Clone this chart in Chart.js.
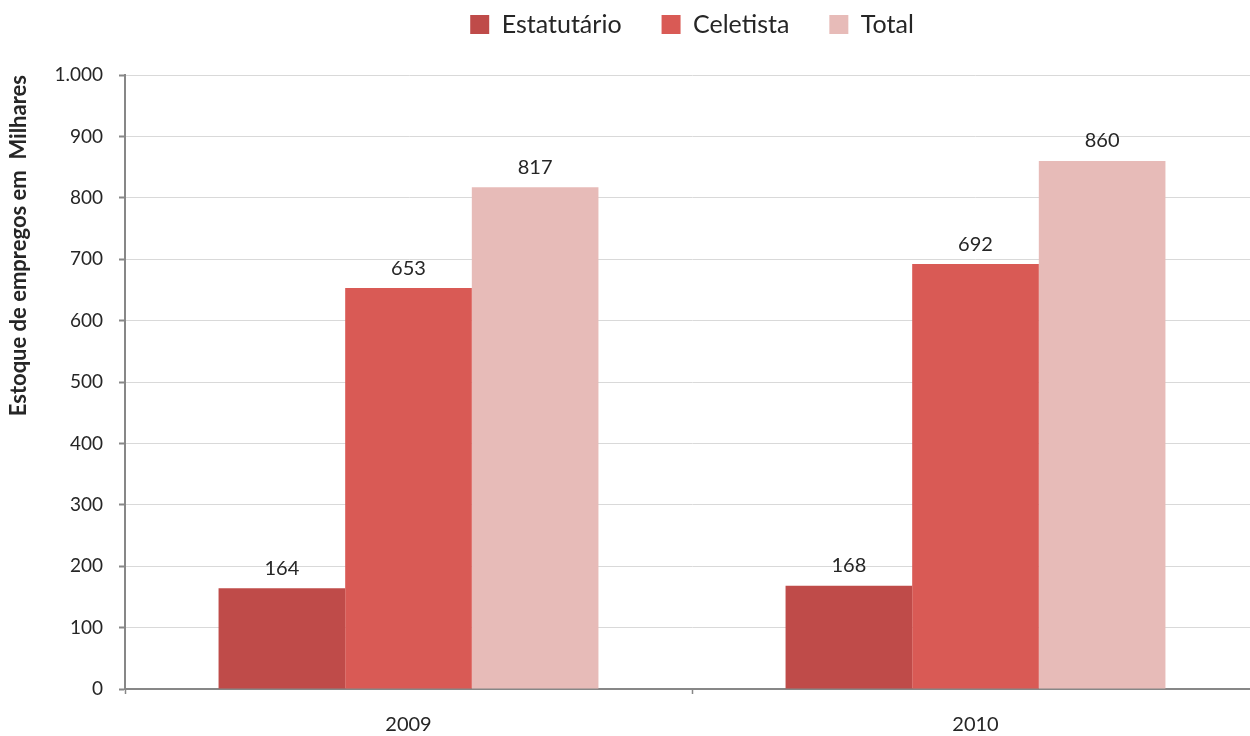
<!DOCTYPE html>
<html>
<head>
<meta charset="utf-8">
<script src="https://cdn.jsdelivr.net/npm/chart.js@4"></script>
<style>
  html, body { margin: 0; padding: 0; background: #fff; overflow: hidden; }
  #wrap { width: 1259px; height: 736px; }
</style>
</head>
<body>
<div id="wrap"><canvas id="chart"></canvas></div>
<script>
const years = ["2009", "2010"];
const estatutario = [164, 168];
const celetista = [653, 692];
const total = [817, 860];
const yTicks = [0, 100, 200, 300, 400, 500, 600, 700, 800, 900, 1000];

const FONT = "Lato, 'Open Sans', sans-serif";
const TXT = "#262626";
const AXIS = "#878787";

function fmt(v) {
  return String(v).replace(/\B(?=(\d{3})+(?!\d))/g, ".");
}

// value labels on top of the bars
const barLabels = {
  id: "barLabels",
  afterDatasetsDraw(chart) {
    const ctx = chart.ctx;
    ctx.save();
    ctx.font = "20px " + FONT;
    ctx.fillStyle = TXT;
    ctx.textAlign = "center";
    ctx.textBaseline = "middle";
    chart.data.datasets.forEach((ds, i) => {
      chart.getDatasetMeta(i).data.forEach((bar, j) => {
        ctx.fillText(fmt(ds.data[j]), bar.x, bar.y - 20);
      });
    });
    ctx.restore();
  }
};

// legend centred over the plot, fixed height
const legendPlace = {
  id: "legendPlace",
  afterInit(chart) {
    const lg = chart.legend;
    const fit = lg.fit;
    lg.fit = function () { fit.call(this); this.height = 75; };
  },
  afterLayout(chart) {
    const lg = chart.legend, a = chart.chartArea;
    lg.left = a.left;
    lg.right = a.right;
    lg.top = -28;
  }
};

new Chart(document.getElementById("chart"), {
  type: "bar",
  data: {
    labels: years,
    datasets: [
      { label: "Estatutário", data: estatutario, backgroundColor: "#BF4B49" },
      { label: "Celetista", data: celetista, backgroundColor: "#D95A55" },
      { label: "Total", data: total, backgroundColor: "#E7BBB8" }
    ]
  },
  options: {
    responsive: true,
    maintainAspectRatio: false,
    animation: false,
    layout: { padding: 0 },
    datasets: { bar: { categoryPercentage: 0.67, barPercentage: 1, borderWidth: 0 } },
    plugins: {
      legend: {
        position: "top",
        labels: {
          font: { family: FONT, size: 25 },
          color: TXT,
          boxWidth: 19,
          boxHeight: 19,
          padding: 40
        }
      },
      tooltip: { enabled: false }
    },
    scales: {
      x: {
        afterFit: s => { s.height = 47; },
        grid: { drawOnChartArea: false, drawTicks: true, tickLength: 5, tickColor: AXIS, tickWidth: 1.5 },
        border: { color: AXIS, width: 2 },
        ticks: { font: { family: FONT, size: 20 }, color: TXT, padding: 19 }
      },
      y: {
        min: 0,
        max: 1000,
        afterFit: s => { s.width = 125; },
        afterBuildTicks: s => { s.ticks = yTicks.map(v => ({ value: v })); },
        grid: { color: "#D9D9D9", lineWidth: 1, tickLength: 6, tickColor: AXIS, tickWidth: 2 },
        border: { color: AXIS, width: 2 },
        ticks: { font: { family: FONT, size: 19 }, color: TXT, padding: 16, callback: v => fmt(v) },
        title: {
          display: true,
          text: "Estoque de empregos em  Milhares",
          align: "end",
          color: TXT,
          font: { family: FONT, size: 22, weight: "bold" },
          padding: { top: 6, bottom: 0 }
        }
      }
    }
  },
  plugins: [barLabels, legendPlace]
});
</script>
</body>
</html>
